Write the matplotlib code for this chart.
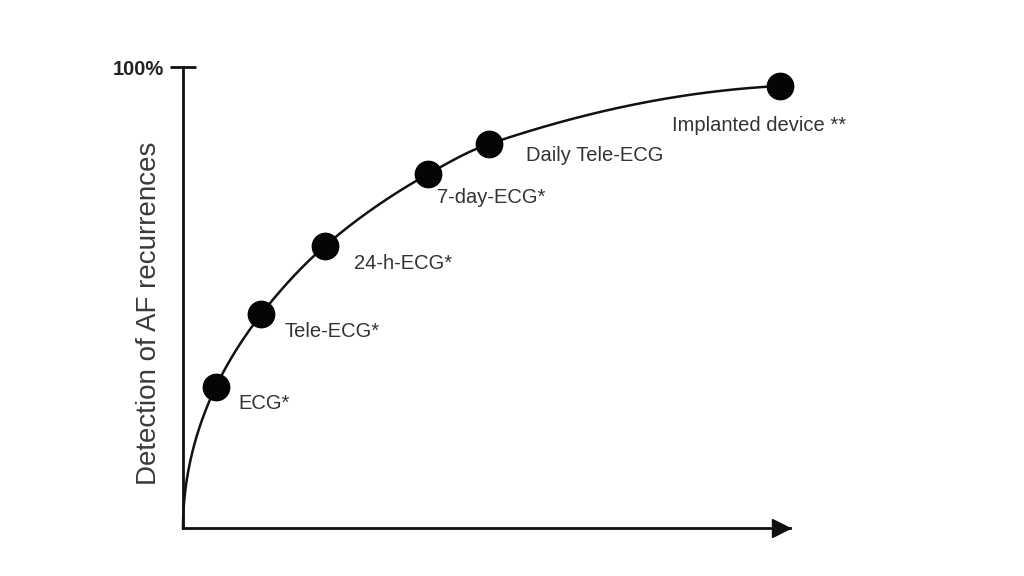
import numpy as np
import matplotlib
matplotlib.use("Agg")
import matplotlib.pyplot as plt

# monitoring methods, rough position on the curve
methods = ["ECG*", "Tele-ECG*", "24-h-ECG*", "7-day-ECG*", "Daily Tele-ECG", "Implanted device **"]
intensity = [5.4, 12.9, 23.4, 40.4, 50.4, 98.4]
detection = [30.6, 46.4, 61.2, 76.8, 83.3, 95.9]

# label offsets in pixels (dx, dy) from each dot
label_offsets = [(23, -17), (23, -17), (29, -18), (9, -24), (37, -11), (-108, -40)]

plt.rcParams["font.family"] = ["Liberation Sans", "DejaVu Sans"]


def pchip(xk, yk, xs):
    # monotone cubic (Fritsch-Carlson)
    xk = np.asarray(xk, float)
    yk = np.asarray(yk, float)
    h = np.diff(xk)
    d = np.diff(yk) / h
    m = np.zeros_like(xk)
    for i in range(1, len(xk) - 1):
        if d[i - 1] * d[i] > 0:
            w1 = 2 * h[i] + h[i - 1]
            w2 = h[i] + 2 * h[i - 1]
            m[i] = (w1 + w2) / (w1 / d[i - 1] + w2 / d[i])
    m[0] = d[0]
    m[-1] = d[-1] * 0.3
    out = np.empty_like(xs)
    for j, x in enumerate(xs):
        i = min(np.searchsorted(xk, x, side="right") - 1, len(xk) - 2)
        i = max(i, 0)
        t = (x - xk[i]) / h[i]
        h00 = 2 * t**3 - 3 * t**2 + 1
        h10 = t**3 - 2 * t**2 + t
        h01 = -2 * t**3 + 3 * t**2
        h11 = t**3 - t**2
        out[j] = h00 * yk[i] + h10 * h[i] * m[i] + h01 * yk[i + 1] + h11 * h[i] * m[i + 1]
    return out


fig = plt.figure(figsize=(10.24, 5.76), dpi=100)
ax = fig.add_axes([0.1787, 0.0833, 0.5928, 0.8003])

# smooth curve from the origin through the dots (interpolated in sqrt(x))
xk = np.sqrt([0.0] + intensity)
yk = [0.0] + detection
us = np.linspace(0, xk[-1], 400)
ax.plot(us**2, pchip(xk, yk, us), color="#111111", lw=1.8, zorder=2, clip_on=False)

ax.plot(intensity, detection, "o", ms=19, color="#050505", zorder=3, clip_on=False)

for name, x, y, (dx, dy) in zip(methods, intensity, detection, label_offsets):
    ax.annotate(name, (x, y), xytext=(dx, dy), textcoords="offset pixels",
                ha="left", va="center", fontsize=14.5, color="#333333")

ax.set_xlim(0, 100)
ax.set_ylim(0, 100)

for side in ["top", "right"]:
    ax.spines[side].set_visible(False)
for side in ["left", "bottom"]:
    ax.spines[side].set_linewidth(2)
    ax.spines[side].set_color("#111111")

# arrow head on the x axis
ax.plot(0.985, 0, ">", ms=13, color="#111111", transform=ax.transAxes, clip_on=False)

ax.set_xticks([])
ax.set_yticks([100])
ax.set_yticklabels(["100%"], fontsize=14.5, fontweight="bold", color="#222222")
ax.tick_params(axis="y", direction="inout", length=19, width=2, color="#111111", pad=4)

ax.set_ylabel("Detection of AF recurrences", fontsize=20, color="#3a3a3a")
ax.yaxis.set_label_coords(-0.035, 0.466)

plt.savefig("out.png", dpi=100)
